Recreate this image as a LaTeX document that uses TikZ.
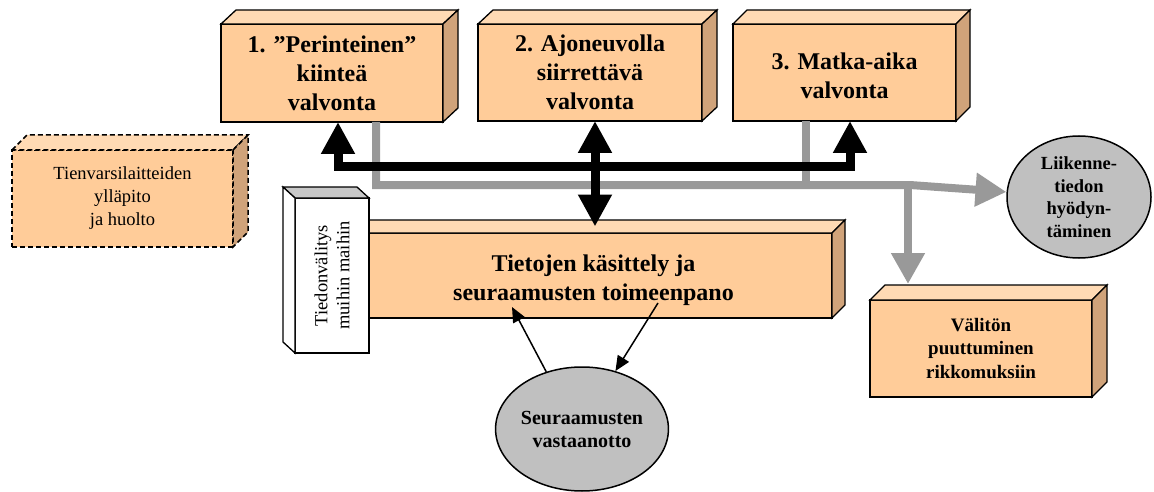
\documentclass[tikz,border=0pt]{standalone}
\usepackage{fontspec}
\setmainfont{Liberation Serif}
\usetikzlibrary{arrows.meta,shapes.geometric}

\definecolor{boxfront}{HTML}{FFCC99}
\definecolor{boxtop}{HTML}{FFDAB4}
\definecolor{boxside}{HTML}{D0A37A}
\definecolor{flowgray}{HTML}{999999}
\definecolor{ovalgray}{HTML}{C0C0C0}
\definecolor{slabtop}{HTML}{C8C8C8}

\tikzset{
  edge/.style={line width=1.3pt},
  front/.style={edge, draw, fill=boxfront, outer sep=0pt, inner sep=0pt, align=center,
    font=\fontsize{24}{29}\selectfont\bfseries},
  smallfront/.style={front, font=\fontsize{19}{23.5}\selectfont\bfseries},
  dashedge/.style={line width=1.5pt, dash pattern=on 5pt off 3pt},
  dashfront/.style={front, dashedge, font=\fontsize{18.5}{23}\selectfont},
  slab/.style={edge, draw, fill=white, outer sep=0pt, inner sep=0pt},
  oval/.style={ellipse, draw, line width=1.5pt, fill=ovalgray, inner sep=0pt, align=center,
    font=\fontsize{18.5}{22.5}\selectfont\bfseries},
  bigtip/.tip={Triangle[width=32pt,length=32pt]},
  bus/.style={line width=9pt, line join=miter},
  flow/.style={draw=flowgray, line width=8pt, line join=miter},
  flowtip/.tip={Triangle[width=32pt,length=31pt,color=flowgray]},
  link/.style={line width=1.5pt, -{Triangle[width=13pt,length=15pt]}}
}

% top and right faces of a box extruded by (#3 right, #4 up)
\newcommand\extrudebox[4][edge]{%
  \filldraw[#1,fill=boxtop] (#2.north west) -- ++(#3,-#4)
    -- ([shift={(#3,-#4)}]#2.north east) -- (#2.north east) -- cycle;
  \filldraw[#1,fill=boxside] (#2.north east) -- ++(#3,-#4)
    -- ([shift={(#3,-#4)}]#2.south east) -- (#2.south east) -- cycle;
}
% centred lines of width #1, pushed down by half of #2
\newcommand\lowered[3][200pt]{\parbox{#1}{\vspace*{#2}\centering #3}}

\begin{document}
\begin{tikzpicture}[x=1pt,y=-1pt]
\useasboundingbox (0,0) rectangle (1154,492);

% monitoring methods
\node[front, minimum width=222pt, minimum height=98pt] (b1) at (332,73)
  {1. ”Perinteinen”\\kiinteä\\valvonta};
\extrudebox{b1}{15}{14}
\node[front, minimum width=224pt, minimum height=97pt] (b2) at (590,72.5)
  {2. Ajoneuvolla\\siirrettävä\\valvonta};
\extrudebox{b2}{15}{14}
\node[front, minimum width=223pt, minimum height=97pt] (b3) at (844.5,72.5)
  {\lowered{6pt}{3. Matka-aika\\valvonta}};
\extrudebox{b3}{14}{14}

% roadside maintenance
\node[dashfront, minimum width=221pt, minimum height=97pt] (rm) at (122.5,198.5)
  {Tienvarsilaitteiden\\ylläpito\\ja huolto};
\extrudebox[dashedge]{rm}{15}{15}

% processing centre
\node[front, minimum width=477pt, minimum height=85pt] (main) at (593.5,275.5)
  {\lowered[420pt]{10pt}{Tietojen käsittely ja\\seuraamusten toimeenpano}};
\extrudebox{main}{13}{13}

% forwarding slab, extruded towards the upper left
\node[slab, minimum width=74pt, minimum height=155pt] (fw) at (332,275.5) {};
\filldraw[edge,fill=slabtop] (fw.north west) -- ++(-12,-11)
  -- ([shift={(-12,-11)}]fw.north east) -- (fw.north east) -- cycle;
\filldraw[edge,fill=white] (fw.north west) -- ++(-12,-11)
  -- ([shift={(-12,-11)}]fw.south west) -- (fw.south west) -- cycle;
\node[rotate=90, align=center, font=\fontsize{18.5}{22}\selectfont] (fwt) at (fw.center)
  {Tiedonvälitys\\muihin maihin};

% immediate intervention
\node[smallfront, minimum width=222pt, minimum height=97pt] (vb) at (981,348.5)
  {Välitön\\puuttuminen\\rikkomuksiin};
\extrudebox{vb}{15}{15}

% ovals
\node[oval, minimum width=144pt, minimum height=122pt] (lk) at (1079,197)
  {Liikenne-\\tiedon\\hyödyn-\\täminen};
\node[oval, minimum width=153pt, minimum height=124pt, font=\fontsize{20}{23}\selectfont\bfseries]
  (sv) at (582,429) {Seuraamusten\\vastaanotto};

% junction points
\coordinate (g1) at (376,185);
\coordinate (g2) at (910,185);
\coordinate (g3) at (806,185);
\coordinate (g4) at (908,185);
\coordinate (cL) at (338,166.5);
\coordinate (cR) at (850,166.5);
\coordinate (cM) at (595,166.5);
\coordinate (mtop) at ([shift={(0,-6.5)}]main.north);
\coordinate (vtop) at ([shift={(0,-16)}]vb.north);
\coordinate (m1) at ([shift={(-81.5,-11)}]main.south);
\coordinate (m2) at ([shift={(64.5,-15)}]main.south);

% grey data flow
\draw[flow, -flowtip] (g1 |- b1.south) -- (g1) -- (g2) -- (lk.176);
\draw[flow] (g3 |- b3.south) -- (g3);
\draw[flow, -flowtip] (g4) -- (g4 |- vtop);

% black control bus
\draw[bus, bigtip-bigtip] (cL |- b1.south) -- (cL) -- (cR) -- (cR |- b3.south);
\draw[bus, bigtip-bigtip] (cM |- b2.south) -- (cM |- mtop);

% sanctions loop
\draw[link] (sv.122) -- (m1);
\draw[link] (m2) -- (sv.60);
\end{tikzpicture}
\end{document}
